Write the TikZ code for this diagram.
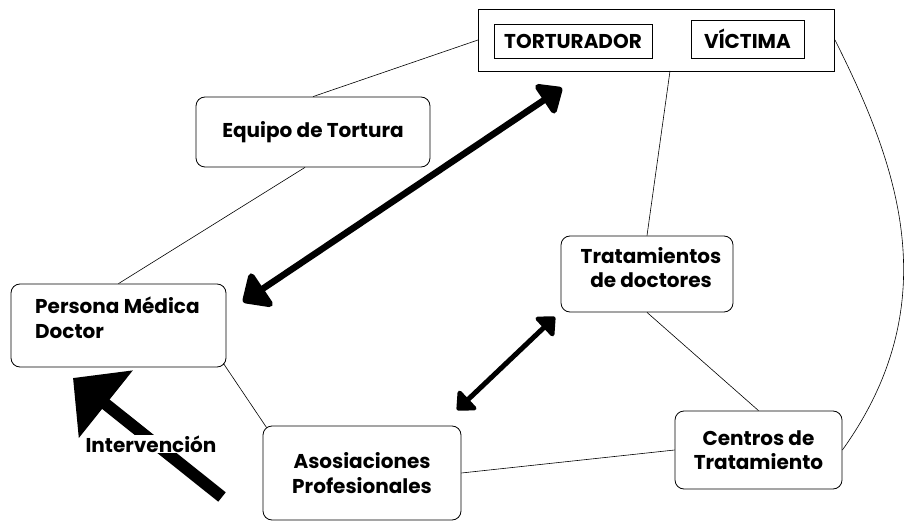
\documentclass[tikz,border=0pt]{standalone}
\usepackage{fontspec}
\setmainfont{Poppins}
\usetikzlibrary{arrows.meta}
\begin{document}
\begin{tikzpicture}[x=1pt,y=-1pt,
  rbox/.style={draw, rounded corners=9pt, line width=0.8pt},
  sbox/.style={draw, line width=0.9pt},
  lbl/.style={font=\fontsize{20}{24.5}\selectfont\bfseries, align=center},
  link/.style={line width=0.6pt},
  bigarrow/.style={line width=6.5pt, {Triangle[length=26pt,width=46pt,round]}-{Triangle[length=24pt,width=40pt,round]}},
  smallarrow/.style={line width=5pt, {Triangle[length=17pt,width=30pt,round]}-{Triangle[length=17pt,width=30pt,round]}},
  pusharrow/.style={line width=12pt, -{Triangle[length=42pt,width=84pt]}},
]
\useasboundingbox (0,0) rectangle (915,521);
% outer box with two inner boxes
\draw[sbox] (478,9) rectangle (834,71);
\coordinate (outerW) at (478,40);
\coordinate (outerS) at (670,71);
\coordinate (outerE) at (835,40);
\node[sbox, minimum width=158pt, minimum height=34pt, lbl] (tort) at (573,41) {TORTURADOR};
\node[sbox, minimum width=113pt, minimum height=38pt, lbl] (vict) at (747.5,39) {VÍCTIMA};
% rounded boxes
\node[rbox, minimum width=234pt, minimum height=70pt, lbl] (equipo) at (313,132) {Equipo de Tortura};
\node[rbox, minimum width=215pt, minimum height=83pt] (persona) at (118.5,325.5) {};
\node[lbl, align=left, anchor=north west, inner sep=0pt] (personat) at (35,297) {Persona Médica\\Doctor};
\node[rbox, minimum width=198pt, minimum height=94pt, lbl] (asos) at (362,473) {Asosiaciones\\Profesionales};
\node[rbox, minimum width=172pt, minimum height=76pt] (trat) at (647,274) {};
\node[lbl, anchor=north, inner sep=0pt] (tratt) at (651,247) {Tratamientos\\de doctores};
\node[rbox, minimum width=167pt, minimum height=78pt, lbl] (centros) at (758.5,450) {Centros de\\Tratamiento};
% thin connectors
\draw[link] (outerW) -- (equipo.north);
\draw[link] ([xshift=-8pt]equipo.south) -- (persona.north);
\draw[link] (outerS) -- (trat.north);
\draw[link] (trat.south) -- (centros.north);
\draw[link] (asos.east) -- (centros.west);
\draw[link] ([xshift=-3pt,yshift=4pt]persona.south east) -- ([xshift=4pt,yshift=-2pt]asos.north west);
\draw[link] (outerE) .. controls (895,160) and (950,300) .. (centros.east);
% thick arrows
\coordinate (a1) at (562,88);
\coordinate (a2) at (243,302);
\draw[bigarrow] (a2) -- (a1);
\coordinate (b1) at (555,317);
\coordinate (b2) at (457,410);
\draw[smallarrow] (b2) -- (b1);
\coordinate (c1) at (222,497);
\coordinate (c2) at (73,378);
\draw[pusharrow] (c1) -- (c2);
\node[lbl, fill=white, inner sep=1pt] (interv) at (151,444) {Intervención};
\end{tikzpicture}
\end{document}
